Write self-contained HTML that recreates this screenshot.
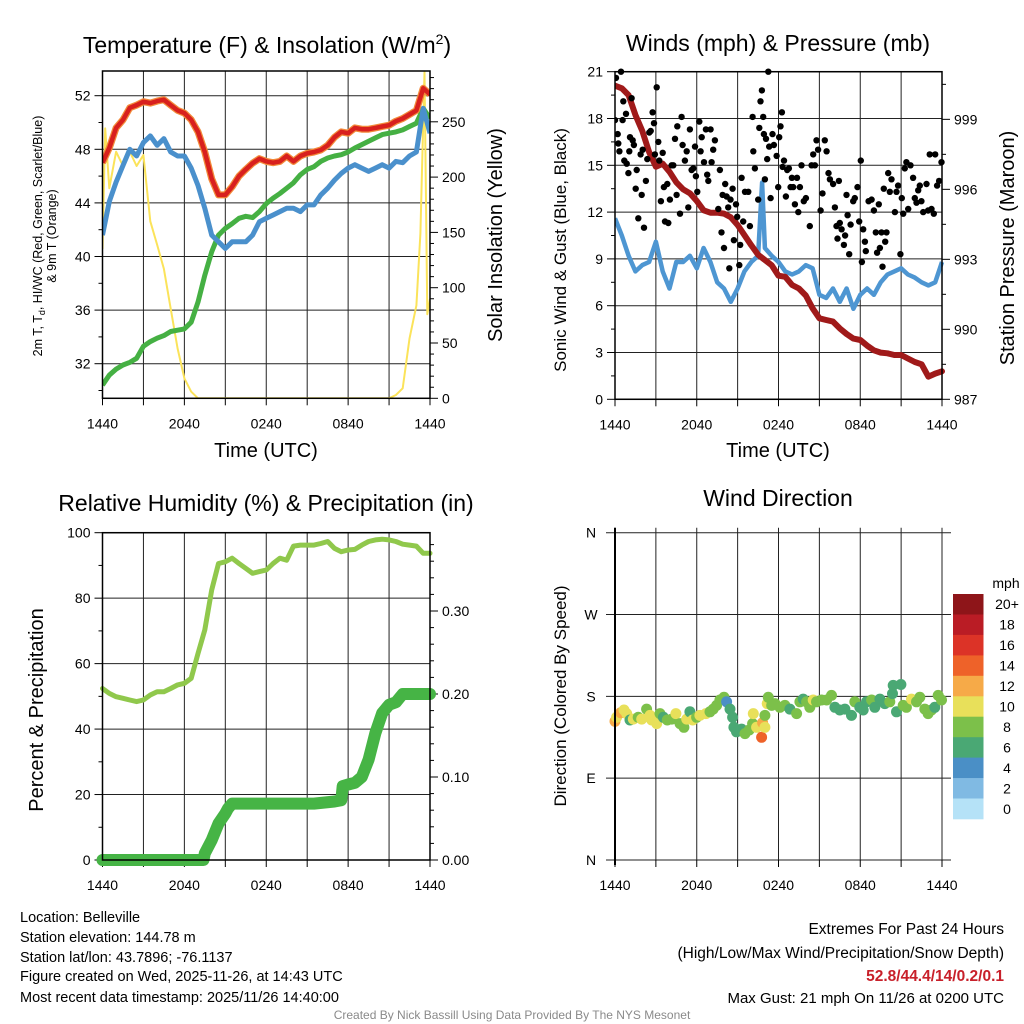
<!DOCTYPE html>
<html>
<head>
<meta charset="utf-8">
<style>
html,body{margin:0;padding:0;background:#fff;}
svg{display:block;font-family:"Liberation Sans",Arial,sans-serif;}
</style>
</head>
<body>
<svg id="chart" width="1024" height="1024" viewBox="0 0 1024 1024" xmlns="http://www.w3.org/2000/svg"></svg>
<script>
// ---------- DATA ----------
const hours = [0,0.5,1,1.5,2,2.5,3,3.5,4,4.5,5,5.5,6,6.5,7,7.5,8,8.5,9,9.5,10,10.5,11,11.5,12,12.5,13,13.5,14,14.5,15,15.5,16,16.5,17,17.5,18,18.5,19,19.5,20,20.5,21,21.5,22,22.5,23,23.5,24];
const tempRed = [47.0,48.1,49.6,50.2,51.1,51.3,51.55,51.45,51.6,51.7,51.3,50.9,50.7,50.2,49.3,47.8,45.8,44.6,44.6,45.2,46.0,46.5,46.96,47.3,47.1,47.0,47.1,47.5,47.1,47.5,47.7,47.8,47.95,48.3,48.9,49.3,49.2,49.6,49.5,49.5,49.6,49.7,49.8,50.1,50.3,50.6,50.9,52.55,52.1];
const dewGreen = [30.4,31.15,31.6,31.9,32.1,32.4,33.3,33.65,33.9,34.1,34.4,34.5,34.6,35.1,36.6,38.6,40.35,41.6,42.1,42.45,42.85,43.0,42.9,43.35,43.95,44.35,44.7,45.1,45.5,46.1,46.5,46.7,47.1,47.35,47.5,47.6,47.8,48.1,48.35,48.6,48.85,49.1,49.2,49.3,49.45,49.7,49.95,51.05,50.3];
const hiwcBlue = [41.6,44.1,45.55,46.8,48.0,47.5,48.5,49.0,48.3,48.8,47.8,47.5,47.5,46.6,45.3,43.6,41.6,41.1,40.6,41.1,41.1,41.1,41.6,42.6,42.85,43.1,43.35,43.6,43.6,43.35,43.85,43.85,44.6,45.1,45.7,46.2,46.6,46.85,46.6,46.35,46.6,46.85,46.6,47.1,47.0,47.5,47.8,51.05,49.2];
const solarHours = [0,0.2,0.5,1,1.5,2,2.5,3,3.5,4,4.5,5,5.5,6,6.5,7,21,21.5,22,22.5,23,23.3,23.6,23.8,24];
const solarVals = [135,244,190,223,210,223,210,220,160,139,117,81,45,18,6,0,0,3,9,54,84,149,295,76,90];
const tempTicks = [32,36,40,44,48,52];
const solarTicks = [0,50,100,150,200,250];
const timeLabels = ["1440","2040","0240","0840","1440"];

const pressure = [1000.44,1000.33,1000.04,999.19,998.5,997.6,996.97,997.1,996.75,996.3,996.0,995.83,995.5,995.1,995.0,995.0,994.96,994.8,994.47,994.04,993.6,993.2,992.97,992.75,992.3,992.25,991.9,991.75,991.45,990.9,990.47,990.4,990.33,990.04,989.8,989.6,989.54,989.3,989.1,989.0,988.97,988.9,988.9,988.75,988.6,988.5,987.97,988.1,988.2];
const windHours = [0,0.5,1,1.5,2,2.5,3,3.5,4,4.5,5,5.5,6,6.5,7,7.5,8,8.5,9,9.5,10,10.5,10.8,11,11.5,12,12.5,13,13.5,14,14.5,15,15.5,16,16.5,17,17.5,18,18.5,19,19.5,20,20.5,21,21.5,22,22.5,23,23.5,24];
const windBlue = [11.6,10.5,9.2,8.2,8.6,8.8,10.1,8.2,7.1,8.8,8.8,9.2,8.4,9.7,8.8,7.5,7.1,6.25,7.1,8.2,8.8,9.2,13.9,9.7,9.2,8.8,8.2,8.0,8.2,8.6,8.4,6.7,6.5,7.1,6.25,7.1,5.8,6.7,7.1,6.7,7.5,8.0,8.2,8.4,8.0,7.8,7.5,7.3,7.5,8.8];
const gustHours = [0,0.07,0.2,0.24,0.32,0.44,0.56,0.61,0.68,0.81,0.86,0.98,1.05,1.1,1.22,1.3,1.39,1.52,1.59,1.71,1.88,1.96,2.03,2.13,2.27,2.37,2.52,2.62,2.76,2.86,2.93,3.06,3.18,3.25,3.37,3.5,3.59,3.67,3.84,3.91,4.03,4.16,4.28,4.4,4.52,4.57,4.77,4.89,4.96,5.13,5.26,5.38,5.5,5.62,5.75,5.87,5.94,6.04,6.19,6.28,6.36,6.53,6.67,6.77,6.85,7.02,7.09,7.21,7.33,7.58,7.7,7.82,7.9,8.0,8.09,8.19,8.31,8.39,8.48,8.63,8.73,8.88,8.97,9.12,9.19,9.29,9.41,9.54,9.78,9.9,10.1,10.15,10.27,10.51,10.59,10.68,10.78,10.88,10.93,11.0,11.08,11.17,11.25,11.32,11.42,11.56,11.66,11.86,11.98,12.05,12.15,12.25,12.3,12.4,12.54,12.64,12.76,12.89,12.98,13.08,13.2,13.36,13.45,13.57,13.69,13.86,14.01,14.3,14.43,14.55,14.67,14.79,14.91,15.09,15.23,15.4,15.53,15.67,15.77,16.01,16.14,16.26,16.33,16.43,16.5,16.63,16.8,16.89,16.99,17.07,17.19,17.29,17.48,17.6,17.8,17.92,18.04,18.12,18.22,18.34,18.41,18.61,18.83,19.0,19.14,19.24,19.36,19.44,19.56,19.63,19.73,19.83,19.93,20.05,20.17,20.29,20.54,20.66,20.78,20.95,21.05,21.15,21.27,21.39,21.52,21.69,21.88,22.0,22.13,22.25,22.37,22.49,22.62,22.86,22.98,23.1,23.23,23.4,23.5,23.64,23.79,23.96];
const gustVals = [17.9,20.6,17.0,16.4,15.9,21.0,17.9,19.1,15.3,18.3,15.1,14.5,15.9,16.8,19.3,16.6,16.3,13.5,14.7,11.6,15.7,13.1,16.0,11.0,14.0,15.4,17.1,17.2,18.4,17.7,15.7,20.0,16.5,15.3,12.7,15.8,13.6,11.4,13.8,11.3,12.8,15.0,15.0,16.7,13.1,17.5,11.9,18.1,16.3,15.3,15.9,12.3,17.3,14.7,14.8,16.2,14.3,13.3,17.8,15.9,16.8,15.2,17.3,14.4,14.0,17.3,15.2,16.0,16.6,12.2,14.7,10.7,13.1,9.7,13.8,13.0,12.3,8.4,12.8,13.5,10.2,12.5,11.7,8.6,9.9,14.2,11.4,13.3,13.3,11.1,18.1,15.9,14.8,12.8,17.4,19.1,19.8,18.1,17.0,14.1,16.7,15.4,21.0,16.2,12.9,17.0,16.3,15.6,13.6,16.8,17.5,18.4,14.9,15.3,13.0,14.7,14.8,13.6,14.2,13.6,12.5,14.2,12.0,13.6,15.0,12.7,12.9,11.1,15.0,15.7,15.0,16.6,16.0,12.1,13.2,16.6,15.9,14.5,14.1,13.8,12.3,11.1,10.3,14.0,11.3,10.9,9.9,10.5,13.1,11.8,9.3,11.2,12.7,12.9,13.6,11.4,15.3,8.8,10.9,10.1,9.5,12.7,12.8,12.1,10.7,9.4,12.5,9.7,10.7,8.5,13.5,10.1,10.7,14.5,13.3,14.1,12.0,13.3,13.7,9.3,12.9,11.9,14.8,15.2,12.2,15.0,14.2,12.9,12.6,13.4,13.7,12.7,12.0,13.8,12.1,15.7,12.2,11.9,15.7,13.7,14.0,15.2];
const windTicks = [0,3,6,9,12,15,18,21];
const pressTicks = [987,990,993,996,999];

const rh = [52.4,50.9,49.9,49.4,48.9,48.4,48.9,50.4,51.4,51.4,52.4,53.5,54.0,55.5,63.1,70.3,82.5,90.6,91.1,92.2,90.6,89.1,87.6,88.1,88.6,90.6,92.2,91.6,95.9,96.2,96.2,96.2,96.7,97.3,95.2,94.2,94.7,94.9,96.2,97.3,97.8,98.0,97.8,97.3,96.5,96.2,95.9,93.7,93.7];
const precipHours = [0,7.4,7.5,8,8.5,9,9.2,9.5,15.5,17,17.5,17.6,18,18.5,19,19.5,20,20.5,21,21.5,22,24];
const precipVals = [0,0,0.008,0.024,0.044,0.056,0.062,0.068,0.068,0.0705,0.072,0.089,0.091,0.093,0.1,0.121,0.153,0.177,0.187,0.19,0.2,0.2];
const rhTicks = [0,20,40,60,80,100];
const precipTicks = [0,0.1,0.2,0.3];

const dirHours = [0,0.12,0.42,0.66,0.86,1.1,1.34,1.7,1.96,2.32,2.57,2.69,3.06,3.3,3.55,3.84,4.16,4.47,4.77,5.06,5.26,5.5,5.7,5.99,6.23,6.67,6.97,7.21,7.46,7.7,8.0,8.19,8.44,8.63,8.73,8.92,9.29,9.54,9.85,10.1,10.15,10.39,10.76,10.83,11.0,11.0,11.17,11.25,11.5,11.74,12.1,12.47,12.84,13.33,13.57,13.81,14.06,14.3,14.55,14.79,15.16,15.53,15.89,16.14,16.5,16.87,17.36,17.6,17.97,18.22,18.46,18.83,19.07,19.44,19.8,20.17,20.37,20.42,20.66,20.98,21.15,21.39,21.76,22.13,22.37,22.74,22.98,23.23,23.47,23.72,23.96];
const dirDeg = [152.6,157,162,165,161,154,155,157,155,166,159,154,150,161,157,154,155,161,150,146,155,163,154,157,159,161,163,166,170,176,179,174,166,157,146,141,144,139,143,150,161,146,135,151,146,159,172,179,170,172,168,170,166,161,174,177,174,168,176,174,176,176,181,168,165,166,159,174,168,165,174,176,168,177,172,174,183,192,163,193,170,168,177,174,179,166,161,165,168,181,176];
const dirSpeed = [12,10,12,10,10,7,10,8,10,8,10,10,10,8,7,8,8,10,8,8,10,7,10,8,10,10,8,8,8,8,8,4,6,6,6,6,7,8,8,8,10,10,14,12,10,8,10,8,8,8,8,8,7,8,8,7,8,8,10,8,8,8,8,6,6,6,6,8,6,6,7,8,6,6,6,8,6,6,6,6,8,8,10,8,8,8,8,8,6,8,8];
const dirTicks = [0,90,180,270,360];
const dirTickLabels = ["N","E","S","W","N"];
const speedBins = ["0","2","4","6","8","10","12","14","16","18","20+"];
const speedColors = ["#b5e2f7","#80bae3","#4a8fc6","#4aa874","#7cc04a","#e8e05a","#f6aa48","#ee6229","#dc3327","#ba1c25","#8e1519"];

// ---------- HELPERS ----------
const NS = "http://www.w3.org/2000/svg";
const svg = document.getElementById("chart");
function mk(tag, attrs, parent) {
  const e = document.createElementNS(NS, tag);
  for (const k in attrs) e.setAttribute(k, attrs[k]);
  (parent || svg).appendChild(e);
  return e;
}
function txt(s, x, y, size, anchor, parent, extra) {
  const t = mk("text", Object.assign({x: x, y: y, "font-size": size, "text-anchor": anchor || "middle", fill: "#000"}, extra || {}), parent);
  t.textContent = s;
  return t;
}
function pathD(xs, ys, fx, fy) {
  let d = "";
  for (let i = 0; i < xs.length; i++) d += (i ? "L" : "M") + fx(xs[i]).toFixed(1) + "," + fy(ys[i]).toFixed(1);
  return d;
}
function timeGrid(g, X0, X1, Y0, Y1) {
  const xs = h => X0 + h * (X1 - X0) / 24;
  for (let k = 0; k <= 8; k++) {
    const x = xs(k * 3);
    const gl = mk("line", {x1: x, x2: x, y1: Y0, y2: Y1, stroke: "#222", "stroke-width": 1}, g);
    
    
    const tk = mk("line", {x1: x, x2: x, y1: Y1, y2: Y1 + 7, stroke: "#000", "stroke-width": 1}, g);
    
    
  }
  for (let k = 0; k < timeLabels.length; k++) {
    const t = txt(timeLabels[k], xs(k * 6), Y1 + 30, 14, "middle", g);
    
    
  }
  return xs;
}
function frame(g, X0, X1, Y0, Y1) {
  const r = mk("rect", {x: X0, y: Y0, width: X1 - X0, height: Y1 - Y0, fill: "none", stroke: "#000", "stroke-width": 1.5}, g);
  
  
}

// ---------- PANEL 1: Temperature ----------
(function(){
  const g = mk("g", {});
  
  
  const X0 = 102.5, X1 = 430, Y0 = 71, Y1 = 398.3;
  const yT = T => 95.7 + (52 - T) * 13.4;
  const yS = W => 398.3 - W * 1.106;
  const clip = mk("clipPath", {id: "c1"}, g);
  mk("rect", {x: X0, y: Y0, width: X1 - X0, height: Y1 - Y0}, clip);
  tempTicks.forEach(v => {
    const gl = mk("line", {x1: X0, x2: X1, y1: yT(v), y2: yT(v), stroke: "#222", "stroke-width": 1}, g);
    
    
    const tk = mk("line", {x1: X0 - 8, x2: X0, y1: yT(v), y2: yT(v), stroke: "#000"}, g);
    
    
    const t = txt(String(v), X0 - 12, yT(v) + 5, 14, "end", g);
    
    
  });
  for (let v = 30; v <= 52; v += 2) if (v % 4) mk("line", {x1: X0 - 4, x2: X0, y1: yT(v), y2: yT(v), stroke: "#000"}, g);
  solarTicks.forEach(v => {
    const tk = mk("line", {x1: X1, x2: X1 + 8, y1: yS(v), y2: yS(v), stroke: "#000"}, g);
    
    
    const t = txt(String(v), X1 + 12, yS(v) + 5, 14, "start", g);
    
    
  });
  for (let v = 10; v <= 290; v += 10) if (v % 50) mk("line", {x1: X1, x2: X1 + 4, y1: yS(v), y2: yS(v), stroke: "#000"}, g);
  const xs = timeGrid(g, X0, X1, Y0, Y1);
  const cg = mk("g", {"clip-path": "url(#c1)"}, g);
  const sol = mk("path", {d: pathD(solarHours, solarVals, xs, yS), fill: "none", stroke: "#fbe35a", "stroke-width": 2, "stroke-linejoin": "round"}, cg);
  
  
  const dew = mk("path", {d: pathD(hours, dewGreen, xs, yT), fill: "none", stroke: "#45b043", "stroke-width": 5, "stroke-linejoin": "round"}, cg);
  
  
  const hw = mk("path", {d: pathD(hours, hiwcBlue, xs, yT), fill: "none", stroke: "#4a90cc", "stroke-width": 5, "stroke-linejoin": "round"}, cg);
  
  
  const t9 = mk("path", {d: pathD(hours, tempRed, xs, yT), fill: "none", stroke: "#f28a3a", "stroke-width": 7, "stroke-linejoin": "round"}, cg);
  
  
  const t2 = mk("path", {d: pathD(hours, tempRed, xs, yT), fill: "none", stroke: "#d8201e", "stroke-width": 4.5, "stroke-linejoin": "round"}, cg);
  
  
  frame(g, X0, X1, Y0, Y1);
  const title = txt("", 267, 53, 23, "middle", g);
  title.innerHTML = 'Temperature (F) &amp; Insolation (W/m<tspan dy="-9" font-size="14">2</tspan><tspan dy="9">)</tspan>';
  
  
  const xl = txt("Time (UTC)", 266, 457, 20, "middle", g);
  
  
  const yl = txt("", 0, 0, 12.5, "middle", g, {transform: "translate(42,236) rotate(-90)"});
  yl.innerHTML = '2m T, T<tspan dy="3" font-size="9">d</tspan><tspan dy="-3">, HI/WC (Red, Green, Scarlet/Blue)</tspan>';
  
  
  const yl2 = txt("& 9m T (Orange)", 0, 0, 12.5, "middle", g, {transform: "translate(56,236) rotate(-90)"});
  
  
  const yr = txt("Solar Insolation (Yellow)", 0, 0, 20, "middle", g, {transform: "translate(502,235) rotate(-90)"});
  
  
})();

// ---------- PANEL 2: Winds & Pressure ----------
(function(){
  const g = mk("g", {});
  
  
  const X0 = 615, X1 = 942, Y0 = 71.7, Y1 = 399.3;
  const yW = v => 399.3 - v * 15.6;
  const yP = p => 399.3 - (p - 987) * 23.33;
  const clip = mk("clipPath", {id: "c2"}, g);
  mk("rect", {x: X0, y: Y0 - 6, width: X1 - X0 + 6, height: Y1 - Y0 + 6}, clip);
  windTicks.forEach(v => {
    const gl = mk("line", {x1: X0, x2: X1, y1: yW(v), y2: yW(v), stroke: "#222", "stroke-width": 1}, g);
    
    
    mk("line", {x1: X0 - 8, x2: X0, y1: yW(v), y2: yW(v), stroke: "#000"}, g);
    const t = txt(String(v), X0 - 12, yW(v) + 5, 14, "end", g);
    
    
  });
  for (let v = 1.5; v < 21; v += 3) mk("line", {x1: X0 - 4, x2: X0, y1: yW(v), y2: yW(v), stroke: "#000"}, g);
  pressTicks.forEach(p => {
    mk("line", {x1: X1, x2: X1 + 8, y1: yP(p), y2: yP(p), stroke: "#000"}, g);
    const t = txt(String(p), X1 + 12, yP(p) + 5, 14, "start", g);
    
    
  });
  for (let p = 988.5; p < 1001; p += 3) mk("line", {x1: X1, x2: X1 + 4, y1: yP(p), y2: yP(p), stroke: "#000"}, g);
  const xs = timeGrid(g, X0, X1, Y0, Y1);
  const cg = mk("g", {"clip-path": "url(#c2)"}, g);
  const wl = mk("path", {d: pathD(windHours, windBlue, xs, yW), fill: "none", stroke: "#4e96d2", "stroke-width": 4.5, "stroke-linejoin": "round"}, cg);
  
  
  const pl = mk("path", {d: pathD(hours, pressure, xs, yP), fill: "none", stroke: "#a01a1a", "stroke-width": 6, "stroke-linejoin": "round", "stroke-linecap": "round"}, cg);
  
  
  for (let i = 0; i < gustHours.length; i++) {
    const c = mk("circle", {cx: xs(gustHours[i]).toFixed(1), cy: yW(gustVals[i]).toFixed(1), r: 3.2, fill: "#000"}, cg);
    
    
  }
  frame(g, X0, X1, Y0, Y1);
  const title = txt("Winds (mph) & Pressure (mb)", 778, 51, 23, "middle", g);
  
  
  const xl = txt("Time (UTC)", 778, 457, 20, "middle", g);
  
  
  const yl = txt("Sonic Wind & Gust (Blue, Black)", 0, 0, 17, "middle", g, {transform: "translate(566,250) rotate(-90)"});
  
  
  const yr = txt("Station Pressure (Maroon)", 0, 0, 20, "middle", g, {transform: "translate(1014,248) rotate(-90)"});
  
  
})();

// ---------- PANEL 3: RH & Precip ----------
(function(){
  const g = mk("g", {});
  
  
  const X0 = 102.5, X1 = 430, Y0 = 532.7, Y1 = 860;
  const yR = v => 860 - v * 3.273;
  const yP = p => 860 - p * 830;
  rhTicks.forEach(v => {
    const gl = mk("line", {x1: X0, x2: X1, y1: yR(v), y2: yR(v), stroke: "#222", "stroke-width": 1}, g);
    
    
    mk("line", {x1: X0 - 8, x2: X0, y1: yR(v), y2: yR(v), stroke: "#000"}, g);
    const t = txt(String(v), X0 - 12, yR(v) + 5, 14, "end", g);
    
    
  });
  for (let v = 10; v < 100; v += 20) mk("line", {x1: X0 - 4, x2: X0, y1: yR(v), y2: yR(v), stroke: "#000"}, g);
  precipTicks.forEach(p => {
    mk("line", {x1: X1, x2: X1 + 8, y1: yP(p), y2: yP(p), stroke: "#000"}, g);
    const t = txt(p.toFixed(2), X1 + 12, yP(p) + 5, 14, "start", g);
    
    
  });
  for (let p = 0.02; p < 0.39; p += 0.02) if (Math.abs(p * 10 - Math.round(p * 10)) > 0.01) mk("line", {x1: X1, x2: X1 + 4, y1: yP(p), y2: yP(p), stroke: "#000"}, g);
  const xs = timeGrid(g, X0, X1, Y0, Y1);
  const pl = mk("path", {d: pathD(precipHours, precipVals, xs, yP), fill: "none", stroke: "#46b445", "stroke-width": 12, "stroke-linejoin": "round", "stroke-linecap": "round"}, g);
  
  
  const rl = mk("path", {d: pathD(hours, rh, xs, yR), fill: "none", stroke: "#90c84c", "stroke-width": 5, "stroke-linejoin": "round", "stroke-linecap": "round"}, g);
  
  
  frame(g, X0, X1, Y0, Y1);
  const title = txt("Relative Humidity (%) & Precipitation (in)", 266, 511, 23, "middle", g);
  
  
  const yl = txt("Percent & Precipitation", 0, 0, 20, "middle", g, {transform: "translate(43,710) rotate(-90)"});
  
  
})();

// ---------- PANEL 4: Wind direction ----------
(function(){
  const g = mk("g", {});
  
  
  const X0 = 615, X1 = 942, Y0 = 532.7, Y1 = 860;
  const yD = d => 860 - d * (Y1 - Y0) / 360;
  dirTicks.forEach((d, i) => {
    const gl = mk("line", {x1: X0 - 9, x2: X1 + 9, y1: yD(d), y2: yD(d), stroke: "#222", "stroke-width": 1}, g);
    
    
    const t = txt(dirTickLabels[i], 591, yD(d) + 5, 14, "middle", g);
    
    
  });
  const xs = timeGrid(g, X0, X1, Y0 - 5, Y1);
  for (let i = 0; i < dirHours.length; i++) {
    const idx = Math.min(10, Math.floor(dirSpeed[i] / 2));
    const c = mk("circle", {cx: xs(dirHours[i]).toFixed(1), cy: yD(dirDeg[i]).toFixed(1), r: 5.5, fill: speedColors[idx]}, g);
    
    
  }
  const ax = mk("line", {x1: X0, x2: X0, y1: Y0 - 5, y2: Y1 + 5, stroke: "#000", "stroke-width": 2}, g);
  
  
  const title = txt("Wind Direction", 778, 506, 23, "middle", g);
  
  
  const yl = txt("Direction (Colored By Speed)", 0, 0, 17, "middle", g, {transform: "translate(566,696) rotate(-90)"});
  
  
  const lg = mk("g", {}, g);
  
  
  const unit = txt("mph", 1006, 588, 14, "middle", lg);
  
  
  const bh = (819 - 594) / speedBins.length;
  for (let i = 0; i < speedBins.length; i++) {
    const k = speedBins.length - 1 - i;
    const r = mk("rect", {x: 953, y: (594 + i * bh).toFixed(1), width: 30.5, height: (bh + 0.3).toFixed(1), fill: speedColors[k]}, lg);
    
    
    const t = txt(speedBins[k], 1007, 594 + i * bh + bh / 2 + 5, 14, "middle", lg);
    
    
  }
})();

// ---------- FOOTER TEXT ----------
(function(){
  const g = mk("g", {});
  
  
  const lines = ["Location: Belleville","Station elevation: 144.78 m","Station lat/lon: 43.7896; -76.1137","Figure created on Wed, 2025-11-26, at 14:43 UTC","Most recent data timestamp: 2025/11/26 14:40:00"];
  const ys = [922,942,962,981,1002];
  lines.forEach((s, i) => {
    const t = txt(s, 20, ys[i], 14.5, "start", g);
    
    
  });
  const g2 = mk("g", {});
  
  
  const a = txt("Extremes For Past 24 Hours", 1004, 934, 15.5, "end", g2);
  
  
  const b = txt("(High/Low/Max Wind/Precipitation/Snow Depth)", 1004, 958, 15.5, "end", g2);
  
  
  const c = txt("52.8/44.4/14/0.2/0.1", 1004, 981, 15.5, "end", g2, {fill: "#c8202a", "font-weight": "bold"});
  
  
  const d = txt("Max Gust: 21 mph On 11/26 at 0200 UTC", 1004, 1003, 15, "end", g2);
  
  
  const f = txt("Created By Nick Bassill Using Data Provided By The NYS Mesonet", 512, 1019, 12, "middle", svg, {fill: "#8a8a8a"});
  
  
})();
</script>
</body>
</html>
